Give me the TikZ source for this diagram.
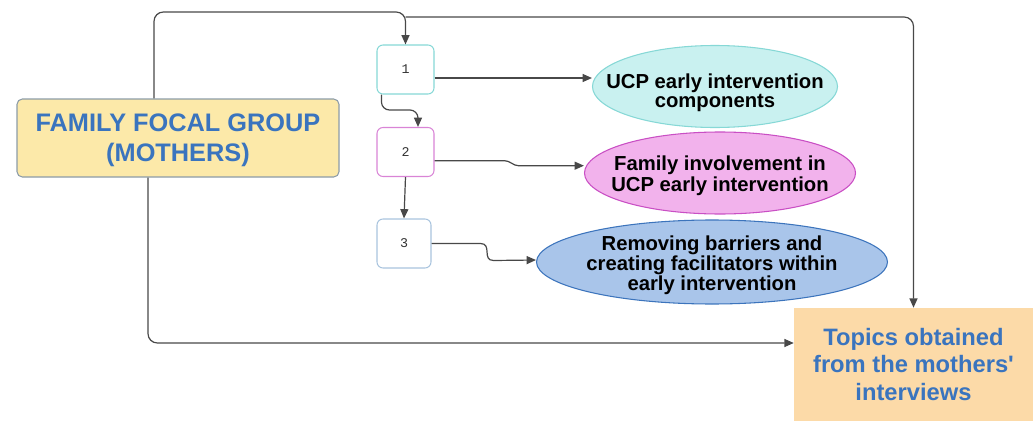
\documentclass[tikz,border=0pt]{standalone}
\usepackage{fontspec}
\setmainfont{Liberation Sans}[Ligatures=TeXOff]
\newfontfamily\monof{Liberation Mono}
\usetikzlibrary{arrows.meta,shapes.geometric,calc}
\definecolor{famfill}{HTML}{FCE9A9}
\definecolor{famdraw}{HTML}{8C9CA8}
\definecolor{bluetxt}{HTML}{3A74BE}
\definecolor{topfill}{HTML}{FCDAA8}
\definecolor{cyanfill}{HTML}{C9F1F0}
\definecolor{cyandraw}{HTML}{86D8D6}
\definecolor{pinkfill}{HTML}{F2B2EC}
\definecolor{pinkdraw}{HTML}{C94FC4}
\definecolor{bluefill}{HTML}{A9C5EA}
\definecolor{bluedraw}{HTML}{3C74BC}
\definecolor{b3draw}{HTML}{A9C4DE}
\definecolor{lnc}{HTML}{484848}
\tikzset{
  conn/.style={draw=lnc, line width=0.9pt, -{Triangle[length=7pt,width=6pt]}},
  numbox/.style={draw, rounded corners=4.5pt, line width=0.8pt, fill=white, font=\monof\fontsize{10}{12}\selectfont, text=black!80, minimum width=57*0.75pt, minimum height=49*0.75pt, inner sep=0pt},
  oval/.style={ellipse, line width=0.8pt, inner sep=0pt},
  ovaltext/.style={inner sep=0pt, align=center, font=\bfseries\fontsize{15.2}{12.2}\selectfont, text=black},
  bluebox/.style={align=center, font=\bfseries\fontsize{19}{22.5}\selectfont, text=bluetxt, inner sep=0pt}
}
\begin{document}
\begin{tikzpicture}[x=0.75pt,y=-0.75pt]
\useasboundingbox (0,0) rectangle (1033,421);
% nodes
\node[draw=famdraw, fill=famfill, rounded corners=4pt, line width=0.8pt, minimum width=322*0.75pt, minimum height=78*0.75pt, inner sep=0pt] (fam) at (178,138) {};
\node[bluebox] (famt) at ([yshift=-2pt]fam.center) {FAMILY FOCAL GROUP\\(MOTHERS)};
\node[numbox, draw=cyandraw] (b1) at (405.5,69.5) {1};
\node[numbox, draw=pinkdraw!70] (b2) at (405.5,152) {2};
\node[numbox, draw=b3draw, minimum width=54*0.75pt] (b3) at (404,243.5) {3};
\node[oval, draw=cyandraw, fill=cyanfill, minimum width=245*0.75pt, minimum height=82*0.75pt] (e1) at (715,86.5) {};
\node[ovaltext] (e1t) at ([yshift=-4.5pt]e1.center) {UCP early intervention\\components};
\node[oval, draw=pinkdraw, fill=pinkfill, minimum width=271*0.75pt, minimum height=82*0.75pt] (e2) at (720,173) {};
\node[ovaltext] (e2t) at ([yshift=-2pt]e2.center) {Family involvement in\\UCP early intervention};
\node[oval, draw=bluedraw, fill=bluefill, minimum width=351*0.75pt, minimum height=84*0.75pt] (e3) at (712,262) {};
\node[ovaltext] (e3t) at ([yshift=-2.5pt]e3.center) {Removing barriers and\\creating facilitators within\\early intervention};
\node[bluebox, fill=topfill, minimum width=239*0.75pt, minimum height=113*0.75pt, font=\bfseries\fontsize{17.8}{20.5}\selectfont] (top) at (913.5,364.5) {Topics obtained\\from the mothers'\\interviews};
% helper coordinates
\coordinate (y12) at (0,12);
\coordinate (y17) at (0,17);
\coordinate (y110) at (0,110);
\coordinate (y343) at (0,343);
\coordinate (x418) at (418,0);
% connectors
\draw[conn, rounded corners=7pt] ([xshift=-24*0.75pt]fam.north) |- (b1.north |- y12) -- (b1.north);
\draw[conn, rounded corners=7pt] (b1.north |- y17) -| (top.north);
\draw[conn, rounded corners=6pt] ([xshift=5*0.75pt]b1.south west) |- (x418 |- y110) -- (b2.north -| x418);
\draw[conn] (b2.south) -- (b3.north);
\draw[conn] ([yshift=-8.5*0.75pt]b1.east) -- ([yshift=-8.5*0.75pt]b1.east -| e1.west);
\draw[conn, rounded corners=3pt] ([yshift=-8.7*0.75pt]b2.east) -- ++(74,0) -- ++(6,5) -- ([yshift=7.3*0.75pt]e2.west);
\draw[conn] (b3.east) -- ++(49,0) .. controls ++(12,0) and ++(-12,0) .. ++(13,17) -- ([yshift=2*0.75pt]e3.west);
\draw[conn, rounded corners=7pt] ([xshift=-30*0.75pt]fam.south) |- (top.west |- y343);
\end{tikzpicture}
\end{document}
